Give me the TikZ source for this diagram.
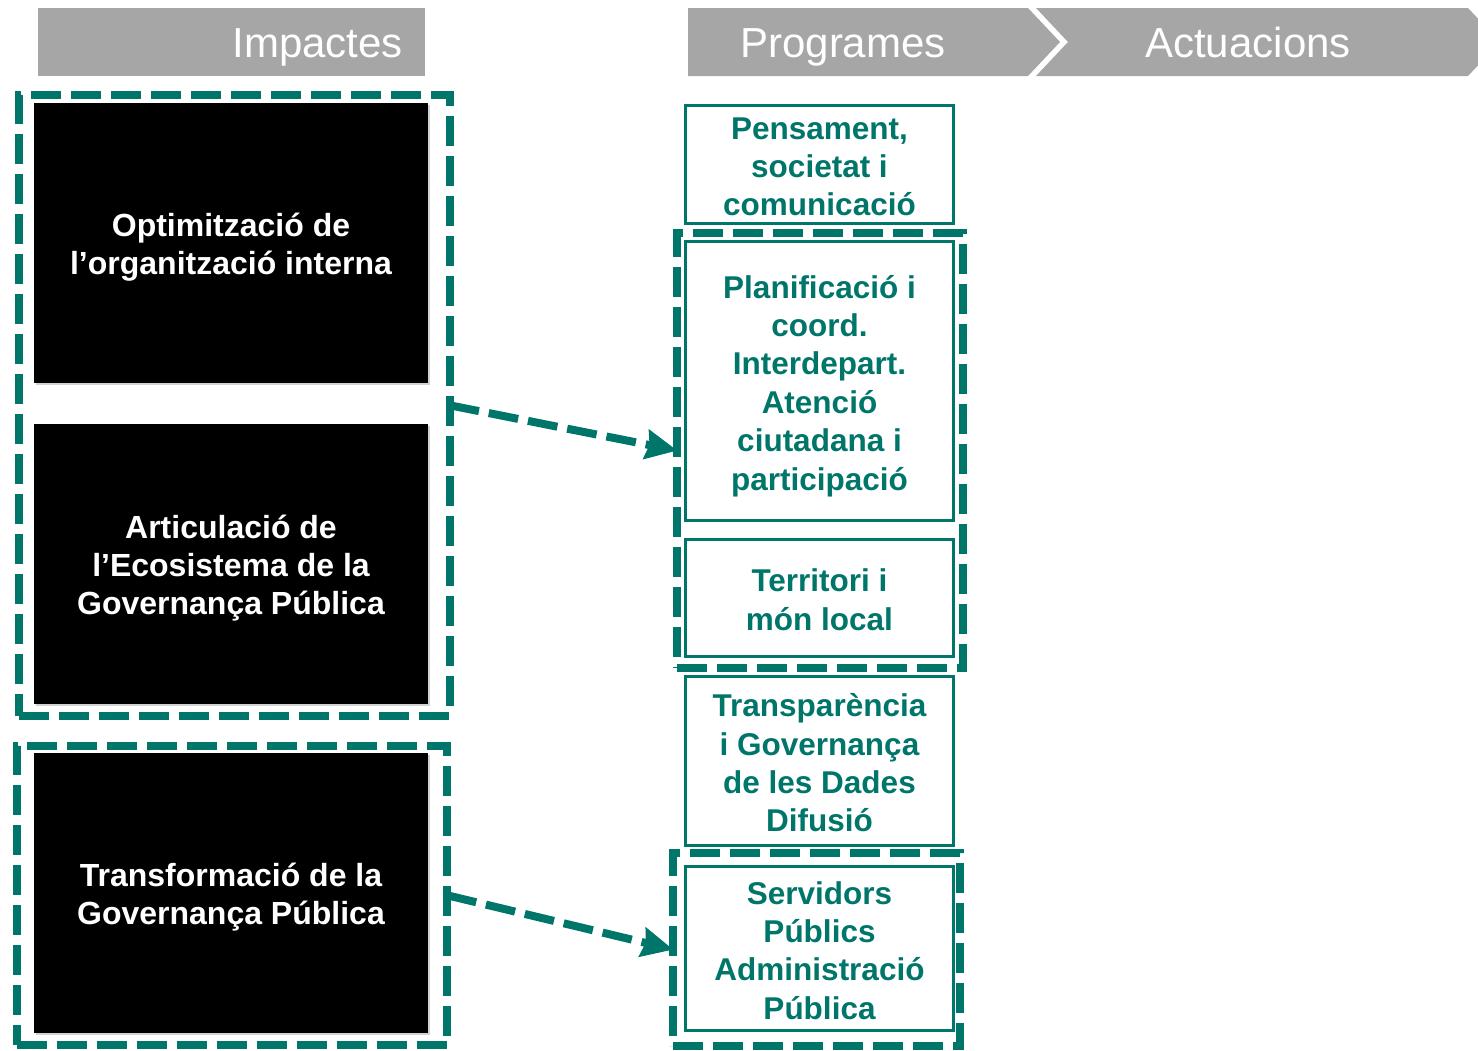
\documentclass[tikz,border=0pt]{standalone}
\usepackage{fontspec}
\setmainfont{Liberation Sans}
\usepackage{tikz}
\usetikzlibrary{arrows.meta, shadows}
\definecolor{verd}{RGB}{0,118,107}
\definecolor{gris}{RGB}{166,166,166}
\newcommand{\puntal}[1]{\rule{0pt}{#1}}

\begin{document}
\begin{tikzpicture}[x=1pt,y=-1pt,>={Stealth[length=32pt,width=31pt,inset=4pt,line width=1pt]}]
  \tikzstyle{capcal}=[text=white,inner sep=0pt,font=\fontsize{42}{48}\selectfont]
  \tikzstyle{impacte}=[fill=black,text=white,align=center,minimum width=394pt,
                       minimum height=280pt,inner sep=0pt,outer sep=0pt,text depth=6.6pt,
                       font=\fontsize{32}{38}\selectfont\bfseries,
                       drop shadow={shadow xshift=2pt,shadow yshift=-2pt,fill=gray!70,opacity=0.5}]
  \tikzstyle{programa}=[draw=verd,line width=3pt,fill=white,text=verd,align=center,
                        minimum width=268pt,inner sep=0pt,outer sep=0pt,text depth=7pt,
                        font=\fontsize{31.5}{38.4}\selectfont\bfseries]
  \tikzstyle{grup}=[draw=verd,line width=8pt,dash pattern=on 30pt off 10pt,
                    inner sep=0pt,outer sep=0pt]
  \tikzstyle{fletxa}=[->,draw=verd,line width=8pt,dash pattern=on 30pt off 10pt]

  \useasboundingbox (0,0) rectangle (1478,1050);

  % capcaleres
  \fill[gris] (38,8) rectangle (425,76);
  \fill[gris] (688,8) -- (1028,8) -- (1060,42) -- (1028,76) -- (688,76) -- cycle;
  \fill[gris] (1036,8) -- (1468,8) -- (1500,42) -- (1468,76) -- (1036,76) -- (1068,42) -- cycle;
  \node[capcal, anchor=base east] (H1) at (403,57) {Impactes};
  \node[capcal, anchor=base]      (H2) at (843,57) {Programes};
  \node[capcal, anchor=base]      (H3) at (1248,57) {Actuacions};

  % grups
  \node[grup, minimum width=430.5pt, minimum height=620.5pt] (IG1) at (234.25,405.25) {};
  \node[grup, minimum width=430.5pt, minimum height=299.5pt] (IG2) at (231.75,895.25) {};
  \node[grup, minimum width=285.5pt, minimum height=435pt]   (PG1) at (819.75,450.5) {};
  \node[grup, minimum width=287pt,   minimum height=193pt]   (PG2) at (816.5,949.5) {};

  % impactes
  \node[impacte] (I1) at (231,243)   {\puntal{32pt}Optimització de\\l’organització interna};
  \node[impacte] (I2) at (231,564)   {\puntal{32pt}Articulació de\\l’Ecosistema de la\\Governança Pública};
  \node[impacte] (I3) at (231,892.5) {\puntal{33pt}Transformació de la\\Governança Pública};

  % programes
  \node[programa, minimum height=118pt]   (P1) at (819.5,164)    {\puntal{34pt}Pensament,\\societat i\\comunicació};
  \node[programa, minimum height=279pt]   (P2) at (819.5,380.5)  {\puntal{34pt}Planificació i\\coord.\\Interdepart.\\Atenció\\ciutadana i\\participació};
  \node[programa, minimum height=117pt]   (P3) at (819.5,597.5)  {\puntal{34pt}Territori i\\món local};
  \node[programa, minimum height=168.5pt] (P4) at (819.5,760.75) {\puntal{34pt}Transparència\\i Governança\\de les Dades\\Difusió};
  \node[programa, minimum height=163.5pt] (P5) at (819.5,948.25) {\puntal{34pt}Servidors\\Públics\\Administració\\Pública};

  \draw[fletxa] (IG1.east) -- (PG1.west);
  \draw[fletxa] (IG2.east) -- (PG2.west);
\end{tikzpicture}
\end{document}
